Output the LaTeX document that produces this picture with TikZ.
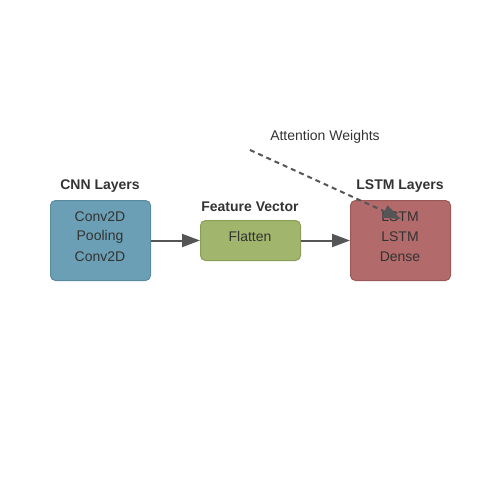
\documentclass[tikz,border=0pt]{standalone}
\usepackage{fontspec}
\setmainfont{Liberation Sans}
\usetikzlibrary{arrows.meta}
\definecolor{cnnfill}{HTML}{6A9FB5}
\definecolor{cnnline}{HTML}{5A8A9E}
\definecolor{flatfill}{HTML}{A1B56C}
\definecolor{flatline}{HTML}{8A9E5A}
\definecolor{lstmfill}{HTML}{B36A6A}
\definecolor{lstmline}{HTML}{9A5858}
\definecolor{txt}{HTML}{333333}
\definecolor{arr}{HTML}{555555}
\begin{document}
\begin{tikzpicture}[x=1pt,y=-1pt,
  layer/.style={draw, rounded corners=5pt, line width=1pt, minimum width=100pt, anchor=north west, inner sep=0pt},
  lbl/.style={font=\fontsize{14}{16}\selectfont\bfseries, text=txt, yshift=-1.5pt},
  itm/.style={font=\fontsize{14}{16}\selectfont, text=txt, yshift=-1.5pt},
  conn/.style={draw=arr, line width=2pt, -{Triangle[length=18pt,width=13pt]}},
  att/.style={draw=arr, line width=2pt, dash pattern=on 5pt off 4pt, -{Triangle[length=18pt,width=13pt]}}]
\useasboundingbox (0,0) rectangle (500,500);
\node[layer, fill=cnnfill, draw=cnnline, minimum height=80pt] (cnn) at (50,200) {};
\node[layer, fill=flatfill, draw=flatline, minimum height=40pt] (flat) at (200,220) {};
\node[layer, fill=lstmfill, draw=lstmline, minimum height=80pt] (lstm) at (350,200) {};
\node[lbl] (cnnl) at (100,185) {CNN Layers};
\node[lbl] (flatl) at (250,205) {Feature Vector};
\node[lbl] (lstml) at (400,185) {LSTM Layers};
\node[itm] (c1) at (100,215) {Conv2D};
\node[itm] (c2) at (100,235) {Pooling};
\node[itm] (c3) at (100,255) {Conv2D};
\node[itm] (f1) at (250,235) {Flatten};
\node[itm] (l1) at (400,215) {LSTM};
\node[itm] (l2) at (400,235) {LSTM};
\node[itm] (l3) at (400,255) {Dense};
\node[itm] (attl) at (325,135) {Attention Weights};
\coordinate (attstart) at (250,150);
\coordinate (attend) at (401,219);
\draw[conn] (cnn.east) -- (flat.west);
\draw[conn] (flat.east) -- (lstm.west);
\draw[att] (attstart) -- (attend);
\end{tikzpicture}
\end{document}
